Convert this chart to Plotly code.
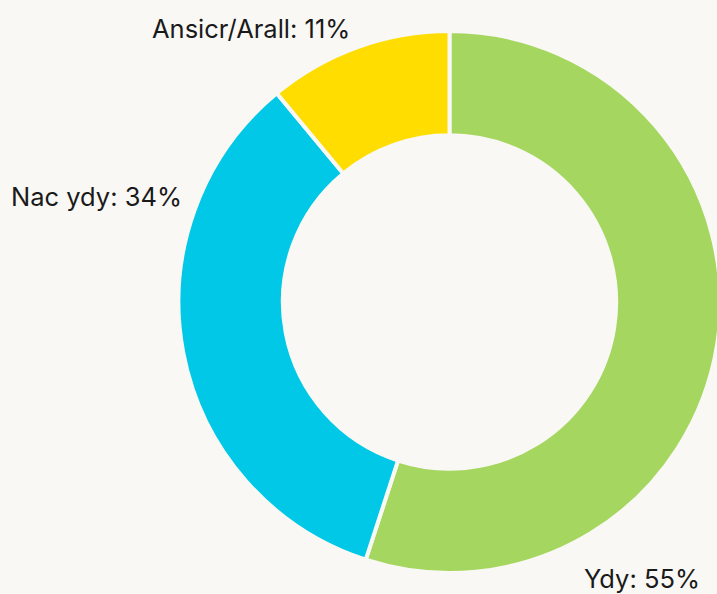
import plotly.graph_objects as go

labels = ["Ydy", "Nac ydy", "Ansicr/Arall"]
values = [55, 34, 11]
colors = ["#a5d65f", "#00c8e6", "#ffdd00"]

W, H = 721, 594   # slightly wider than the window so the ring is clipped at the right like the reference
BG = "#f9f8f5"

fig = go.Figure(go.Pie(
    labels=labels,
    values=values,
    hole=0.615,
    sort=False,
    direction="clockwise",
    rotation=0,
    marker=dict(colors=colors, line=dict(color=BG, width=4)),
    textinfo="none",
    hoverinfo="label+percent",
    showlegend=False,
    domain=dict(x=[178 / W, 1.0], y=[(H - 573) / H, (H - 31) / H]),
))

total = sum(values)
pct = [round(v * 100 / total) for v in values]
# label anchor positions (pixels): (x, y, xanchor)
label_pos = [(702, 578, "right"), (184, 196, "right"), (352, 28, "right")]
for lab, p, (px, py, xa) in zip(labels, pct, label_pos):
    fig.add_annotation(
        x=px / W, y=1 - py / H, xref="paper", yref="paper",
        text=f"{lab}: {p}%", showarrow=False, xanchor=xa, yanchor="middle",
        font=dict(family="Inter, Lato, sans-serif", size=25.5, color="#1a1a1a"),
    )

fig.update_layout(
    width=W, height=H,
    margin=dict(l=0, r=0, t=0, b=0),
    paper_bgcolor=BG, plot_bgcolor=BG,
)
fig.write_html(
    "out.html",
    config={"displayModeBar": False},
    post_script="document.body.style.margin='0';document.body.style.overflow='hidden';document.body.style.background='%s';" % BG,
)
